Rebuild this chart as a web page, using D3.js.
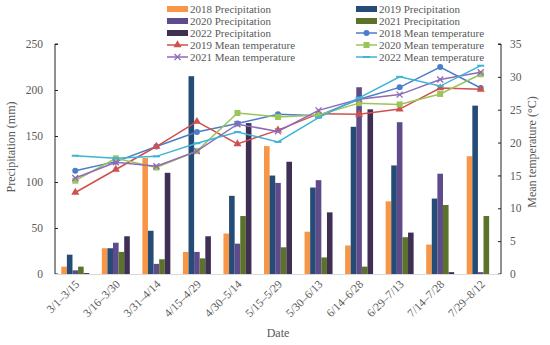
<!DOCTYPE html>
<html><head><meta charset="utf-8">
<script src="https://cdn.jsdelivr.net/npm/d3@7"></script>
<style>body{margin:0;background:#fff}svg{display:block}text{font-family:"Liberation Serif","Times New Roman",serif;fill:#595959}</style>
</head><body><svg id="c" width="550" height="345"></svg>
<script>
const categories = ["3/1–3/15","3/16–3/30","3/31–4/14","4/15–4/29","4/30–5/14","5/15–5/29","5/30–6/13","6/14–6/28","6/29–7/13","7/14–7/28","7/29–8/12"];
const precipSeries = ["2018 Precipitation","2019 Precipitation","2020 Precipitation","2021 Precipitation","2022 Precipitation"];
const precip2018 = [8, 28, 126, 24, 44, 139, 46, 31, 79, 32, 128];
const precip2019 = [21, 28, 47, 215, 85, 107, 94, 160, 118, 82, 183];
const precip2020 = [4, 34, 11, 24, 33, 99, 102, 203, 165, 109, 2];
const precip2021 = [8, 24, 16, 17, 63, 29, 18, 8, 40, 75, 63];
const precip2022 = [1, 41, 110, 41, 164, 122, 67, 179, 45, 2, 0];
const tempSeries = ["2018 Mean temperature","2019 Mean temperature","2020 Mean temperature","2021 Mean temperature","2022 Mean temperature"];
const temp2018 = [15.7, 17.1, 19.4, 21.6, 22.9, 24.3, 24.1, 26.6, 28.4, 31.5, 28.3];
const temp2019 = [12.4, 15.9, 19.4, 23.2, 19.8, 21.9, 24.4, 24.3, 25.1, 28.3, 28.1];
const temp2020 = [14.2, 17.6, 16.2, 18.7, 24.5, 23.9, 24.2, 26.0, 25.8, 27.4, 30.4];
const temp2021 = [14.6, 17.0, 16.4, 18.7, 22.8, 21.7, 24.9, 26.6, 27.3, 29.6, 30.7];
const temp2022 = [18.0, 17.6, 17.9, 19.9, 21.6, 20.1, 23.8, 26.8, 30.0, 28.6, 31.7];
const precipTicks = [0, 50, 100, 150, 200, 250];
const tempTicks = [0, 5, 10, 15, 20, 25, 30, 35];

const precipData = [precip2018, precip2019, precip2020, precip2021, precip2022];
const tempData = [temp2018, temp2019, temp2020, temp2021, temp2022];
const barColors = ["#F79646", "#254C77", "#5F4B8B", "#5A7229", "#3F2F55"];
const lineColors = ["#4A7EC7", "#D0504D", "#9BC45A", "#8E6BB8", "#3FB3D6"];
const markers = ["circle", "triangle", "square", "cross", "dash"];

const svg = d3.select("#c");
const L = 55, R = 501, T = 44, B = 274;
const x0 = d3.scaleBand().domain(categories).range([L, R]).paddingInner(0.31).paddingOuter(0.155);
const x1 = d3.scaleBand().domain(precipSeries).range([0, x0.bandwidth()]);
const xc = c => x0(c) + x0.bandwidth() / 2;
const yL = d3.scaleLinear().domain([0, 250]).range([B, T]);
const yR = d3.scaleLinear().domain([0, 35]).range([B, T]);

// bars
precipSeries.forEach((s, i) => {
  svg.append("g").selectAll("rect").data(categories).join("rect")
    .attr("x", c => x0(c) + x1(s))
    .attr("width", x1.bandwidth())
    .attr("y", (c, j) => yL(precipData[i][j]))
    .attr("height", (c, j) => B - yL(precipData[i][j]))
    .attr("fill", barColors[i]);
});

// axes
const axL = svg.append("g").attr("transform", `translate(${L},0)`)
  .call(d3.axisRight(yL).tickValues(precipTicks).tickSize(3).tickFormat(d3.format("d")));
axL.selectAll("text").attr("x", -12).attr("text-anchor", "end").attr("font-size", 11.5).style("fill", "#595959");
axL.select(".domain").attr("d", `M3,${T}H0V${B}H3`).attr("stroke", "#222");
axL.selectAll(".tick line").attr("stroke", "#222");

const axR = svg.append("g").attr("transform", `translate(${R},0)`)
  .call(d3.axisLeft(yR).tickValues(tempTicks).tickSize(3));
axR.selectAll("text").attr("x", 9).attr("text-anchor", "start").attr("font-size", 11.5).style("fill", "#595959");
axR.select(".domain").attr("d", `M-3,${T}H0V${B}H-3`).attr("stroke", "#222");
axR.selectAll(".tick line").attr("stroke", "#222");

const axB = svg.append("g").attr("transform", `translate(0,${B})`)
  .call(d3.axisBottom(x0).tickSize(0).tickPadding(0));
axB.select(".domain").attr("d", `M${L},0.5H${R}`).attr("stroke", "#d9d9d9");
axB.selectAll(".tick text").attr("font-size", 11.5).attr("text-anchor", "end")
  .attr("transform", "translate(0,6) rotate(-45)").attr("dy", "0.6em").attr("dx", "0").style("fill", "#595959");

// lines
function drawMarker(g, type, color, cx, cy) {
  if (type === "circle") g.append("circle").attr("cx", cx).attr("cy", cy).attr("r", 3).attr("fill", color);
  else if (type === "triangle") g.append("path").attr("d", d3.symbol(d3.symbolTriangle, 28)()).attr("transform", `translate(${cx},${cy})`).attr("fill", color);
  else if (type === "square") g.append("rect").attr("x", cx - 3).attr("y", cy - 3).attr("width", 6).attr("height", 6).attr("fill", color);
  else if (type === "cross") g.append("path").attr("d", `M${cx-3},${cy-3}L${cx+3},${cy+3}M${cx-3},${cy+3}L${cx+3},${cy-3}`).attr("stroke", color).attr("stroke-width", 1.3);
  else g.append("path").attr("d", `M${cx-3.5},${cy}H${cx+3.5}`).attr("stroke", color).attr("stroke-width", 2);
}
const line = d3.line().x((d, j) => xc(categories[j])).y(d => yR(d));
tempSeries.forEach((s, i) => {
  const g = svg.append("g");
  g.append("path").datum(tempData[i]).attr("d", line).attr("fill", "none").attr("stroke", lineColors[i]).attr("stroke-width", 1.5);
  tempData[i].forEach((v, j) => drawMarker(g, markers[i], lineColors[i], xc(categories[j]), yR(v)));
});

// axis titles
svg.append("text").attr("transform", "translate(15,147) rotate(-90)").attr("text-anchor", "middle").attr("font-size", 12).text("Precipitation (mm)");
svg.append("text").attr("transform", "translate(536,152) rotate(-90)").attr("text-anchor", "middle").attr("font-size", 12).text("Mean temperature (°C)");
svg.append("text").attr("x", 278).attr("y", 337).attr("text-anchor", "middle").attr("font-size", 12).text("Date");

// legend
const legendItems = [];
precipSeries.forEach((s, i) => legendItems.push({name: s, type: "bar", color: barColors[i]}));
tempSeries.forEach((s, i) => legendItems.push({name: s, type: "line", color: lineColors[i], marker: markers[i]}));
const colX = [167, 356], rowY = [9, 21, 33, 45, 57];
legendItems.forEach((it, k) => {
  const cx = colX[k % 2], cy = rowY[Math.floor(k / 2)];
  const g = svg.append("g");
  if (it.type === "bar") g.append("rect").attr("x", cx).attr("y", cy - 3).attr("width", 21).attr("height", 6).attr("fill", it.color);
  else {
    g.append("path").attr("d", `M${cx},${cy}H${cx + 21}`).attr("stroke", it.color).attr("stroke-width", 1.5);
    drawMarker(g, it.marker, it.color, cx + 10.5, cy);
  }
  g.append("text").attr("x", cx + 23).attr("y", cy).attr("dy", "0.35em").attr("font-size", 11).text(it.name);
});
</script></body></html>
